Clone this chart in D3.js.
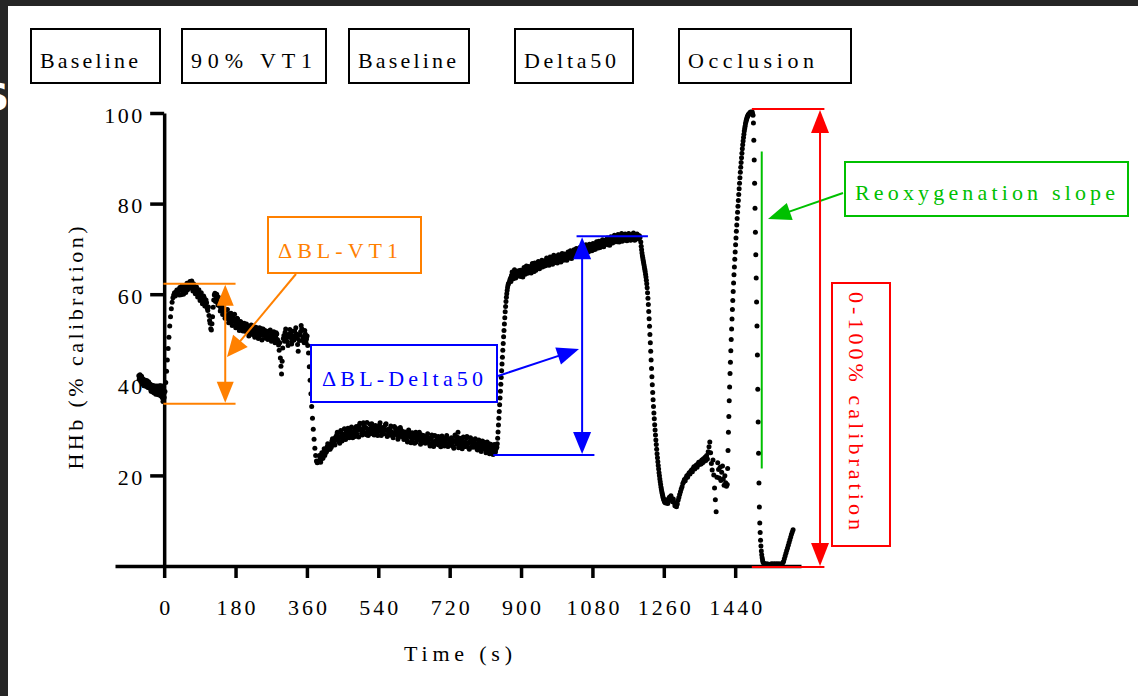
<!DOCTYPE html>
<html>
<head>
<meta charset="utf-8">
<script src="https://cdn.jsdelivr.net/npm/d3@7"></script>
<style>
  html, body { margin: 0; padding: 0; background: #fff; }
  svg { display: block; }
</style>
</head>
<body>
<svg id="chart" width="1138" height="696"></svg>
<script>
// ---------------------------------------------------------------
// HHb trace (% calibration), stored by phase.
// Each phase lists its first sample time (s), the sampling step (s)
// and the recorded values. Plateau phases are stored as two
// interleaved runs (on-step and half-step samples).
// ---------------------------------------------------------------
const restBaseline = [42.0, 41.7, 41.3, 41.5, 41.0, 40.6, 40.9, 40.3, 40.0, 40.6, 40.2, 39.7, 39.9, 40.3, 39.5, 39.1,
  39.6, 39.0, 38.7, 39.3, 38.5, 38.9, 38.2, 39.0, 38.6, 38.3, 39.2, 39.8, 38.7, 38.0, 37.4, 36.8, 37.2];
const restBaselineMid = [41.2, 42.2, 40.8, 41.9, 40.2, 41.3, 39.8, 40.8, 41.0, 39.6, 40.9, 39.4, 40.6, 39.3, 40.1, 38.6,
  39.9, 38.4, 39.8, 38.2, 39.5, 37.9, 38.7, 39.6, 37.8, 38.9, 38.4, 37.6, 39.1, 37.2, 36.3, 38.0];
const rampVT1 = [38.5, 40.5, 43.0, 45.5, 48.0, 50.5, 53.0, 55.0, 56.8, 58.2, 59.2, 59.8, 60.3, 59.6, 60.5, 60.9, 60.4, 61.0];
const exerciseVT1 = [
  59.8, 60.9, 61.4, 60.6, 60.2, 61.3, 61.9, 61.0,
  62.1, 62.8, 61.6, 61.2, 62.3, 61.0, 60.4,
  60.8, 60.1, 59.3, 59.9, 58.8, 58.4, 59.2, 57.8,
  58.1, 56.4, 55.3, 53.6, 52.1, 55.0, 58.7,
  60.2, 59.1, 58.5, 59.3, 57.4, 56.9, 57.8, 56.2, 55.6,
  56.4, 55.1, 54.6, 55.7, 54.2, 53.9, 55.0, 54.4, 53.2, 53.8, 54.6, 52.9, 52.5, 53.7, 53.1, 52.3,
  53.2, 52.4, 51.6, 52.8, 52.1, 51.3, 52.5, 53.0, 51.7, 51.2, 52.3, 51.5, 50.8, 51.9, 52.4, 50.9, 51.4, 52.0, 50.6, 51.1,
  51.8, 50.9, 50.3, 51.4, 50.7, 49.8, 50.6, 51.2, 49.7, 47.6, 45.9, 42.4, 48.1,
  50.9, 51.6, 50.2, 49.5, 51.1, 52.2, 50.4, 49.6, 50.8, 51.9, 52.6, 50.3, 47.4, 49.8, 51.7, 52.4, 50.6, 49.3, 51.2, 50.1, 48.7];
const exerciseVT1Mid = [
  61.5, 59.9, 61.9, 60.0, 61.7, 60.4, 62.4, 61.3,
  61.5, 62.2, 62.9, 60.7, 61.8, 60.1, 61.6,
  59.4, 61.0, 58.6, 60.3, 57.9, 59.6, 57.4, 58.7,
  56.9, 57.2, 54.2, 52.4, 53.5, 57.1, 59.8,
  58.4, 60.0, 57.6, 58.1, 56.3, 58.2, 55.5, 57.0, 54.7,
  55.2, 56.6, 53.7, 54.9, 55.8, 53.1, 54.1, 55.6, 52.6, 54.7, 53.3, 52.0, 54.0, 52.7, 51.9, 53.6,
  51.8, 53.4, 52.9, 50.8, 51.9, 53.2, 51.1, 52.0, 50.5, 52.7, 51.0, 50.2, 52.6, 51.3, 49.9, 52.3, 51.6, 50.3, 51.8, 50.0,
  50.5, 52.1, 49.6, 50.1, 51.7, 49.3, 51.5, 50.0, 48.8, 49.3, 44.1, 45.2, 50.2,
  49.6, 52.3, 51.0, 48.7, 50.6, 51.4, 49.0, 51.8, 49.9, 50.6, 51.2, 48.9, 50.9, 51.1, 53.1, 49.8, 50.3, 52.0, 49.4, 50.8];
const dropRest = [47.0, 44.0, 41.0, 38.0, 35.2, 32.6, 30.2, 28.0, 26.0, 24.4, 23.2, 22.8, 23.0];
const restBaseline2 = [
  23.0, 23.9, 23.5, 24.6, 25.1, 24.4, 25.6, 26.3, 25.7, 26.9, 26.5,
  27.6, 26.8, 27.2, 28.4, 28.9, 27.9, 27.5, 28.6, 29.3, 28.5, 28.0, 29.2, 29.8, 28.7, 28.9, 30.1, 29.4, 28.6, 29.0, 30.3,
  29.8, 29.1, 30.6, 31.0, 30.2, 29.3, 29.7, 30.9, 30.4, 29.0, 29.6, 30.2, 31.3, 30.5, 29.4, 29.9, 30.8, 29.7, 29.2, 30.4,
  31.1, 30.0, 29.3, 29.8, 30.7, 31.2, 29.9, 28.9, 29.5, 30.3, 29.6, 28.7, 29.4, 30.5, 29.8, 28.9, 28.5, 29.6, 30.1, 29.0,
  28.6, 29.3, 28.2, 27.8, 28.9, 29.5, 28.4, 27.6, 28.1, 29.0, 28.3, 27.4, 28.7, 29.2, 27.9, 27.5, 28.4, 28.8, 27.3, 28.0,
  28.6, 27.7, 27.0, 28.2, 28.9, 27.4, 26.8, 27.6, 28.5, 27.9, 26.7, 27.3, 28.4, 27.1, 26.6, 27.8, 28.3, 27.0, 26.5, 27.6,
  28.1, 27.2, 26.4, 27.5, 28.6, 26.9, 29.5, 27.3, 26.5, 27.9, 27.2, 26.3, 27.4, 28.2, 26.8, 26.1, 27.5, 27.9, 26.6, 27.0,
  27.7, 26.5, 25.8, 26.9, 27.4, 26.2, 25.7, 26.8, 27.3, 25.9, 25.4, 26.6, 27.0, 25.6, 25.1, 26.3, 25.8, 25.0, 25.9];
const restBaseline2Mid = [
  24.4, 22.9, 25.0, 23.8, 25.9, 24.9, 25.2, 27.0, 26.1, 25.8,
  26.2, 28.1, 27.9, 26.7, 27.8, 29.5, 28.2, 27.1, 29.9, 27.6, 28.8, 30.3, 27.9, 29.6, 30.4, 28.3, 29.1, 30.7, 28.3, 29.7,
  28.6, 30.8, 29.9, 28.5, 31.5, 30.1, 28.9, 31.6, 29.4, 30.6, 31.7, 28.8, 30.0, 29.2, 31.4, 30.2, 28.9, 31.0, 30.3, 28.8,
  29.8, 31.6, 28.8, 30.5, 29.2, 30.1, 31.4, 28.6, 30.2, 28.9, 30.9, 29.4, 28.3, 30.8, 29.1, 30.3, 28.0, 29.2, 30.6, 28.6,
  29.7, 27.9, 29.6, 28.7, 27.4, 30.0, 28.8, 27.2, 29.4, 28.4, 27.1, 29.5, 27.9, 28.3, 29.5, 26.9, 28.9, 27.7, 28.6, 27.1,
  27.5, 29.2, 28.1, 26.5, 27.9, 28.6, 26.4, 28.8, 27.2, 26.9, 28.6, 27.9, 26.3, 28.7, 27.8, 26.5, 27.2, 28.8, 26.4, 27.9,
  26.7, 28.3, 27.7, 26.0, 28.9, 27.8, 28.4, 26.1, 28.2, 26.8, 25.9, 28.5, 27.0, 26.4, 28.6, 27.2, 25.8, 28.3, 27.3, 26.2,
  26.3, 28.1, 26.9, 25.6, 27.8, 26.6, 25.3, 27.6, 26.4, 26.9, 25.0, 27.4, 26.2, 24.8, 26.9, 25.6, 24.6, 26.8, 25.2];
const rampDelta50 = [26.2, 27.0, 28.2, 29.6, 31.1, 32.6, 34.1, 35.6, 37.1, 38.6, 40.1, 41.6, 43.1, 44.6, 46.1, 47.6,
  49.1, 50.6, 52.0, 53.4, 54.8, 56.1, 57.3, 58.4, 59.3, 60.1, 60.8, 61.4, 61.9, 62.3];
const exerciseDelta50 = [
  62.6, 63.5, 64.2, 63.8, 64.9, 64.4, 63.9, 64.7, 65.2, 64.3,
  63.9, 64.8, 65.4, 64.6, 65.1, 65.9, 65.3, 64.8, 65.6, 66.2, 65.5, 65.0, 66.1, 66.7, 65.8, 66.3, 67.0, 66.4, 66.0, 66.9,
  67.4, 66.6, 66.9, 67.7, 67.2, 66.7, 67.5, 68.1, 67.3, 67.0, 67.9, 68.4, 67.6, 67.4, 68.2, 68.7, 67.9, 67.6, 68.5, 68.9,
  68.2, 68.0, 68.8, 69.3, 68.6, 68.3, 69.1, 69.6, 68.9, 68.7, 69.5, 70.0, 69.3, 69.1, 69.9, 70.4, 69.7, 69.5, 70.3, 70.8,
  70.1, 69.8, 70.6, 71.1, 70.4, 70.2, 71.0, 71.5, 70.8, 70.6, 71.3, 71.9, 71.2, 70.9, 71.7, 72.2, 71.5, 71.3, 72.0, 72.5,
  71.8, 71.6, 72.4, 72.9, 72.1, 71.7, 72.6, 73.1, 72.3, 71.8, 72.5, 72.9, 71.9, 72.4, 73.2, 72.6, 72.1, 72.7, 73.0, 72.2, 72.5];
const exerciseDelta50Mid = [
  63.0, 62.8, 64.9, 63.4, 65.4, 63.6, 65.0, 64.1, 64.0, 65.3,
  65.0, 63.8, 65.9, 64.4, 66.2, 64.6, 66.1, 65.6, 64.7, 66.8, 65.1, 66.9, 65.3, 65.6, 67.2, 65.6, 66.0, 67.5, 66.7, 66.2,
  66.3, 68.0, 67.8, 66.4, 68.2, 67.6, 66.6, 68.6, 67.9, 68.4, 66.9, 68.7, 68.3, 67.1, 69.0, 67.5, 68.9, 68.3, 67.5, 69.3,
  68.8, 69.6, 67.9, 69.0, 69.8, 68.5, 70.1, 68.8, 69.9, 70.3, 68.9, 69.8, 70.6, 69.4, 70.9, 70.2, 69.3, 71.0, 70.4, 69.6,
  71.2, 70.5, 69.9, 71.6, 70.8, 71.7, 70.3, 71.2, 72.0, 70.5, 71.8, 71.1, 72.4, 71.6, 70.8, 72.7, 71.4, 72.3, 73.0, 71.6,
  72.5, 73.2, 71.5, 72.3, 73.4, 72.6, 71.9, 73.3, 72.7, 72.1, 73.4, 72.6, 72.0, 73.0, 73.5, 71.9, 72.4, 73.3, 72.5, 72.9];
const dropDelta50 = [
  71.5, 70.6, 69.8, 69.1, 68.5, 68.0, 67.5, 67.0, 66.5, 66.0,
  65.5, 65.0, 64.4, 63.8, 63.1, 62.3, 61.4, 60.3, 59.1, 57.7,
  56.2, 54.6, 52.9, 51.1, 49.3, 47.4, 45.5, 43.6, 41.8, 40.0,
  38.3, 36.7, 35.2, 33.8, 32.5, 31.2, 30.0, 28.9, 27.8, 26.8,
  25.8, 24.8, 23.9, 23.0, 22.2, 21.4, 20.6, 19.9, 19.2, 18.6,
  18.0, 17.4, 16.9, 16.4, 16.0, 15.6, 15.2, 14.9, 14.6, 14.4,
  14.2, 14.0, 14.3, 13.9, 14.2];
const recovery = [
  14.6, 13.8, 14.4, 15.2, 14.7, 15.5, 14.9, 14.2, 14.8, 14.0, 13.3, 13.9, 13.1, 13.7, 14.5, 15.1, 15.8,
  16.4, 17.0, 17.5, 18.2, 18.6, 19.1, 18.8, 19.5, 19.9, 19.6, 20.2, 20.6, 20.3, 20.9, 21.2, 20.8, 21.5, 21.9, 21.4,
  22.0, 22.3, 21.8, 22.5, 22.9, 22.4,
  23.0, 22.5, 23.4, 22.8, 23.7, 23.1, 24.0, 23.3, 24.4, 23.6, 25.2, 26.3, 27.4, 25.0,
  22.6, 21.2, 23.4, 20.1, 17.2, 14.6, 12.0, 19.6, 22.8, 21.3, 19.4, 21.8, 18.9, 20.7, 22.1, 19.2, 17.8, 19.9, 18.4, 17.6];
const occlusion = [
  18.0, 21.5, 25.5, 29.5, 33.0, 36.5, 39.5, 42.5, 45.0, 47.5,
  50.0, 52.3, 54.5, 56.6, 58.6, 60.6, 62.5, 64.3, 66.0, 67.7,
  69.3, 70.9, 72.4, 73.9, 75.3, 76.7, 78.1, 79.4, 80.7, 82.0,
  83.3, 84.5, 85.7, 86.9, 88.0, 89.1, 90.1, 91.1, 92.1, 93.0,
  93.8, 94.6, 95.3, 96.0, 96.6, 97.1, 97.6, 98.0, 98.4, 98.7,
  99.0, 99.2, 99.4, 99.6, 99.7, 99.8, 99.9, 100.0, 100.1, 100.2,
  100.1, 100.0, 99.9, 100.2, 99.8];
const reoxygenation = [99.5, 97.8, 94.0, 89.6, 84.5, 79.0, 73.7, 68.7, 63.6, 58.3, 53.0, 46.6, 39.0, 31.8,
  24.9, 18.3, 13.0, 9.5, 7.4, 5.7, 4.4, 3.3, 2.5, 1.8, 1.3];
const postOcclusion = [0.9, 0.6, 0.5, 0.4, 0.3, 0.5, 0.3, 0.4, 0.2, 0.4, 0.3, 0.5, 0.4, 0.3, 0.5, 0.4, 0.3,
  0.5, 0.4, 0.3, 0.5, 0.4, 0.3, 0.4, 0.5, 0.7,
  1.0, 1.6, 2.2, 2.8, 3.4, 4.0, 4.6, 5.2, 5.8, 6.4, 7.0, 7.5, 8.0];

const phases = [
  { t0: -64, dt: 2, values: restBaseline },
  { t0: -63, dt: 2, values: restBaselineMid },
  { t0: 2, dt: 2, values: rampVT1 },
  { t0: 38, dt: 3, values: exerciseVT1 },
  { t0: 39.5, dt: 3, values: exerciseVT1Mid },
  { t0: 364, dt: 2, values: dropRest },
  { t0: 390, dt: 3, values: restBaseline2 },
  { t0: 391.5, dt: 3, values: restBaseline2Mid },
  { t0: 839, dt: 1, values: rampDelta50 },
  { t0: 870, dt: 3, values: exerciseDelta50 },
  { t0: 871.5, dt: 3, values: exerciseDelta50Mid },
  { t0: 1202, dt: 1, values: dropDelta50 },
  { t0: 1268, dt: 2, values: recovery },
  { t0: 1420, dt: 1, values: occlusion },
  { t0: 1485, dt: 1, values: reoxygenation },
  { t0: 1510, dt: 2, values: postOcclusion }
];

// Axis ticks and labels
const xTicks = [0, 180, 360, 540, 720, 900, 1080, 1260, 1440];
const yTicks = [20, 40, 60, 80, 100];
const phaseNames = ["Baseline", "90% VT1", "Baseline", "Delta50", "Occlusion"];

// Annotated levels (% calibration) and times (s)
const blVT1 = [35.8, 62.3];          // baseline minimum, 90% VT1 peak
const blDelta50 = [24.5, 72.8];      // baseline level, Delta50 peak
const calibration = [-0.2, 100.9];   // 0-100% calibration range
const slopeSpan = [21.5, 91.5];      // reoxygenation slope guide

// ---------------------------------------------------------------
const W = 1138, H = 696;
const serif = "'Liberation Serif', 'Times New Roman', Times, serif";
const ORANGE = "#ff8000", BLUE = "#0000ff", GREEN = "#00c000", RED = "#ff0000";
const INK = "#000";

const svg = d3.select("#chart");
svg.append("rect").attr("width", W).attr("height", H).attr("fill", "#fff");

// window frame
svg.append("rect").attr("x", 0).attr("y", 0).attr("width", W).attr("height", 6).attr("fill", "#262626");
svg.append("rect").attr("x", 0).attr("y", 0).attr("width", 8).attr("height", H).attr("fill", "#262626");
svg.append("text").attr("x", 9).attr("y", 110).attr("text-anchor", "end")
  .attr("font-family", "'DejaVu Sans', sans-serif").attr("font-weight", "bold")
  .attr("font-size", 38).attr("fill", "#fff").text("S");

const x = d3.scaleLinear().domain([-124, 1606]).range([115, 801]);
const y = d3.scaleLinear().domain([0, 100]).range([566, 113]);

// ---- axes
const gx = svg.append("g").attr("transform", `translate(0,${y(0)})`)
  .call(d3.axisBottom(x).tickValues(xTicks).tickFormat(d3.format("d")).tickSize(12).tickSizeOuter(0));
gx.select(".domain").attr("stroke", INK).attr("stroke-width", 3.5);
gx.selectAll(".tick line").attr("stroke", INK).attr("stroke-width", 3.5);
gx.selectAll(".tick text")
  .attr("y", 49).attr("dy", null).attr("x", 1.5)
  .attr("font-family", serif).attr("font-size", 22).attr("fill", INK)
  .style("letter-spacing", "3px");

const gy = svg.append("g").attr("transform", `translate(${x(0)},0)`)
  .call(d3.axisLeft(y).tickValues(yTicks).tickFormat(d3.format("d")).tickSize(14).tickSizeOuter(0));
gy.select(".domain").attr("stroke", INK).attr("stroke-width", 3.5);
gy.selectAll(".tick line").attr("stroke", INK).attr("stroke-width", 3.5);
gy.selectAll(".tick text")
  .attr("x", -19.5).attr("dy", null).attr("y", 9)
  .attr("font-family", serif).attr("font-size", 22).attr("fill", INK)
  .style("letter-spacing", "2.5px");

svg.append("text")
  .attr("transform", "translate(83,348) rotate(-90)")
  .attr("text-anchor", "middle").attr("font-family", serif).attr("font-size", 22).attr("fill", INK)
  .attr("textLength", 243).attr("lengthAdjust", "spacing")
  .text("HHb (% calibration)");

svg.append("text")
  .attr("x", 458).attr("y", 661)
  .attr("text-anchor", "middle").attr("font-family", serif).attr("font-size", 22).attr("fill", INK)
  .attr("textLength", 108).attr("lengthAdjust", "spacing")
  .text("Time (s)");

// ---- phase labels along the top
const phaseBoxes = [[31, 160, 98], [182, 326, 121], [349, 469, 98], [515, 633, 92], [679, 851, 126]];
const gPh = svg.append("g");
phaseNames.forEach((name, i) => {
  const [x0, x1, len] = phaseBoxes[i];
  gPh.append("rect").attr("x", x0).attr("y", 29).attr("width", x1 - x0).attr("height", 54)
    .attr("fill", "none").attr("stroke", INK).attr("stroke-width", 2);
  gPh.append("text").attr("x", x0 + 9).attr("y", 68)
    .attr("font-family", serif).attr("font-size", 22).attr("fill", INK)
    .attr("textLength", len).attr("lengthAdjust", "spacing").text(name);
});

// ---- HHb samples
const samples = phases.flatMap(p => p.values.map((v, i) => ({ t: p.t0 + i * p.dt, v })));
svg.append("g").selectAll("circle").data(samples).join("circle")
  .attr("cx", d => x(d.t)).attr("cy", d => y(d.v)).attr("r", 2.5).attr("fill", INK);

// ---- annotation helpers
const gA = svg.append("g");
function seg(x1, y1, x2, y2, color, w = 2) {
  gA.append("line").attr("x1", x1).attr("y1", y1).attr("x2", x2).attr("y2", y2)
    .attr("stroke", color).attr("stroke-width", w);
}
function head(tx, ty, fx, fy, len, wid, color) {
  const dx = tx - fx, dy = ty - fy, L = Math.hypot(dx, dy);
  const ux = dx / L, uy = dy / L, bx = tx - ux * len, by = ty - uy * len;
  const nx = -uy * wid / 2, ny = ux * wid / 2;
  gA.append("path").attr("d", `M${tx},${ty}L${bx + nx},${by + ny}L${bx - nx},${by - ny}Z`).attr("fill", color);
}
function arrow(fx, fy, tx, ty, color, len, wid, w = 2) {
  const L = Math.hypot(tx - fx, ty - fy);
  seg(fx, fy, tx - (tx - fx) / L * (len - 2), ty - (ty - fy) / L * (len - 2), color, w);
  head(tx, ty, fx, fy, len, wid, color);
}
function doubleArrow(xp, y1, y2, color, len, wid) {
  seg(xp, y1 + len - 2, xp, y2 - len + 2, color, 2);
  head(xp, y1, xp, y2, len, wid, color);
  head(xp, y2, xp, y1, len, wid, color);
}
function boxLabel(x0, y0, w, h, label, color, tx, ty, len) {
  gA.append("rect").attr("x", x0).attr("y", y0).attr("width", w).attr("height", h)
    .attr("fill", "#fff").attr("stroke", color).attr("stroke-width", 2);
  gA.append("text").attr("x", tx).attr("y", ty)
    .attr("font-family", serif).attr("font-size", 22).attr("fill", color)
    .attr("textLength", len).attr("lengthAdjust", "spacing").text(label);
}

// ΔBL-VT1
seg(x(-2), y(blVT1[1]), x(180), y(blVT1[1]), ORANGE);
seg(x(-2), y(blVT1[0]), x(180), y(blVT1[0]), ORANGE);
doubleArrow(x(154), y(blVT1[1]) + 1, y(blVT1[0]) - 1, ORANGE, 21, 17);
boxLabel(268, 217, 153, 56, "\u0394BL-VT1", ORANGE, 278, 258, 120);
arrow(296, 274, 227, 357, ORANGE, 21, 19);

// ΔBL-Delta50
seg(x(830), y(blDelta50[0]), x(1085), y(blDelta50[0]), BLUE);
seg(x(1040), y(blDelta50[1]), x(1220), y(blDelta50[1]), BLUE);
doubleArrow(x(1054), y(blDelta50[1]) + 1, y(blDelta50[0]) - 1, BLUE, 22, 18);
boxLabel(311, 345, 186, 57, "\u0394BL-Delta50", BLUE, 322, 386, 161);
arrow(498, 376, 579, 349, BLUE, 22, 18);

// Reoxygenation slope
seg(x(1507), y(slopeSpan[1]), x(1507), y(slopeSpan[0]), GREEN, 2);
boxLabel(845, 162, 283, 54, "Reoxygenation slope", GREEN, 855, 200, 260);
arrow(843, 193, 768, 219, GREEN, 23, 18);

// 0-100% calibration
seg(x(1482), y(calibration[1]), x(1665), y(calibration[1]), RED);
seg(x(1482), y(calibration[0]), x(1665), y(calibration[0]), RED);
doubleArrow(x(1654), y(calibration[1]) + 1, y(calibration[0]) - 1, RED, 23, 18);
gA.append("rect").attr("x", 832).attr("y", 283).attr("width", 58).attr("height", 263)
  .attr("fill", "#fff").attr("stroke", RED).attr("stroke-width", 2);
gA.append("text").attr("transform", "translate(849,411) rotate(90)")
  .attr("text-anchor", "middle").attr("font-family", serif).attr("font-size", 22).attr("fill", RED)
  .attr("textLength", 238).attr("lengthAdjust", "spacing").text("0-100% calibration");
</script>
</body>
</html>
